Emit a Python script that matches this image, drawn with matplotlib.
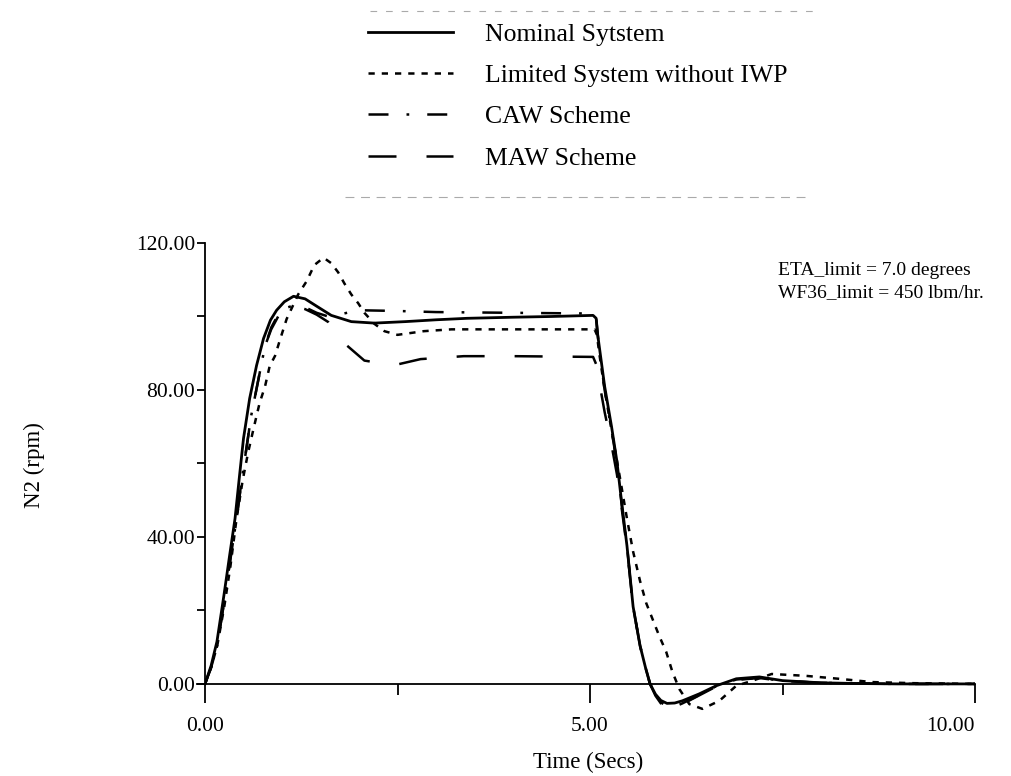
import matplotlib
matplotlib.use('Agg')
import matplotlib.pyplot as plt
from matplotlib.lines import Line2D

plt.rcParams['font.family'] = ['Liberation Serif', 'DejaVu Serif']

# ---------------- data ----------------
t_nom = [0, 0.08, 0.155, 0.245, 0.32, 0.39, 0.45, 0.50, 0.58, 0.67, 0.76, 0.85, 0.93, 1.03,
         1.15, 1.3, 1.45, 1.64, 1.9, 2.2, 2.6, 3.0, 3.4, 4.0, 4.5, 5.04, 5.08, 5.10, 5.19,
         5.28, 5.35, 5.41, 5.48, 5.56, 5.65, 5.72, 5.78, 5.85, 5.92, 6.0, 6.1, 6.2, 6.42,
         6.64, 6.9, 7.2, 7.5, 8.0, 8.5, 9.0, 10.0]
y_nom = [0, 5, 11.5, 24, 35, 45, 57, 66.8, 77.7, 86.7, 94, 99, 101.7, 104,
         105.5, 104.8, 102.8, 100.3, 98.6, 98.2, 98.6, 99.1, 99.5, 99.8, 100, 100.3, 99.5, 95, 81,
         70, 60.5, 49.6, 37.6, 21, 10.4, 4.5, 0, -2.8, -4.5, -5.3, -5.2, -4.6, -2.7,
         -0.5, 1.4, 1.9, 0.9, 0.3, 0.1, 0, 0]

t_lim = [0, 0.08, 0.16, 0.25, 0.33, 0.41, 0.49, 0.56, 0.62, 0.67, 0.71, 0.78, 0.84, 0.91,
         0.97, 1.06, 1.21, 1.32, 1.42, 1.54, 1.64, 1.73, 1.81, 1.9, 1.99, 2.07, 2.2, 2.33,
         2.5, 2.84, 3.2, 4.0, 5.06, 5.09, 5.12, 5.19, 5.28, 5.39, 5.48, 5.56, 5.65, 5.73,
         5.9, 5.99, 6.07, 6.16, 6.29, 6.46, 6.68, 6.9, 7.1, 7.36, 7.8, 8.23, 8.66, 9.2, 10.0]
y_lim = [0, 4.5, 10.5, 21, 32, 45, 55.5, 63, 68.5, 73, 76.5, 81, 86.5, 89.3,
         93.4, 99.3, 106, 109.6, 114, 116, 114.5, 112, 109, 106, 103.6, 101, 98, 96,
         95, 96, 96.5, 96.5, 96.5, 95, 90, 80, 69, 56, 45, 36, 28, 22,
         13, 8.7, 3.3, -1.4, -5.5, -6.8, -4.6, -0.5, 0.8, 2.7, 2.2, 1.4, 0.5, 0.2, 0]

t_caw = [0, 0.08, 0.16, 0.25, 0.33, 0.41, 0.48, 0.53, 0.60, 0.69, 0.78, 0.86, 0.95, 1.05,
         1.15, 1.3, 1.45, 1.6, 1.8, 2.0, 2.5, 3.0, 4.0, 5.04, 5.08, 5.11, 5.19, 5.28, 5.35,
         5.41, 5.48, 5.56, 5.65, 5.72, 5.78, 5.85, 5.92, 6.02, 6.1, 6.2, 6.42, 6.64, 6.9,
         7.2, 7.5, 8.0, 8.5, 9.0, 10.0]
y_caw = [0, 4.5, 10.5, 22.5, 34, 45, 56, 63, 73, 82.5, 92, 97, 100.5, 102.3,
         103, 102.5, 101, 100, 100.8, 101.7, 101.5, 101.2, 101, 100.8, 99.5, 93, 80, 69, 60,
         49, 37.6, 21, 10.4, 4.5, 0, -3, -5, -6.5, -6.2, -5.3, -3, -0.6, 1.2,
         1.7, 0.8, 0.3, 0.1, 0, 0]

t_maw = [0, 0.08, 0.16, 0.25, 0.33, 0.41, 0.48, 0.53, 0.60, 0.69, 0.78, 0.86, 0.95, 1.05,
         1.15, 1.3, 1.45, 1.6, 1.81, 2.07, 2.45, 2.8, 3.36, 4.0, 5.04, 5.08, 5.13, 5.19,
         5.28, 5.35, 5.41, 5.48, 5.56, 5.65, 5.72, 5.78, 5.85, 5.92, 6.02, 6.1, 6.2, 6.42,
         6.64, 6.9, 7.2, 7.5, 8.0, 8.5, 9.0, 10.0]
y_maw = [0, 4.5, 10.5, 22.5, 34, 45, 56, 63, 73, 82.5, 92, 96.5, 100, 102,
         102.8, 102, 100.5, 98.5, 92.7, 88, 86.7, 88.4, 89.2, 89.2, 89, 87, 81, 74,
         65, 57, 48, 37, 21, 10.4, 4.5, 0, -3.2, -5.3, -6.8, -6.5, -5.5, -3.1,
         -0.7, 1.1, 1.6, 0.8, 0.3, 0.1, 0, 0]

labels = ['Nominal Sytstem', 'Limited System without IWP', 'CAW Scheme', 'MAW Scheme']
x_major = [0, 5, 10]
x_major_labels = ['0.00', '5.00', '10.00']
x_minor = [2.5, 7.5]
y_major = [0, 40, 80, 120]
y_major_labels = ['0.00', '40.00', '80.00', '120.00']
y_minor = [20, 60, 100]

# ---------------- figure ----------------
W, H = 1011, 776
fig = plt.figure(figsize=(W / 100, H / 100), dpi=100)
ax = fig.add_axes([205 / W, 48 / H, 770 / W, 485 / H])
ax.set_xlim(0, 10)
ax.set_ylim(-12, 120)

lw = 1.8
l_maw, = ax.plot(t_maw, y_maw, color='black', lw=lw, dashes=(11.2, 12))
l_caw, = ax.plot(t_caw, y_caw, color='black', lw=lw, dashes=(8, 7.2, 1.1, 7.2))
l_lim, = ax.plot(t_lim, y_lim, color='black', lw=lw, dashes=(2.5, 2.8))
l_nom, = ax.plot(t_nom, y_nom, color='black', lw=2.0)

# axes styling
for s in ['top', 'right']:
    ax.spines[s].set_visible(False)
ax.spines['left'].set_bounds(0, 120)
ax.spines['bottom'].set_position(('data', 0))
ax.spines['bottom'].set_bounds(-0.1, 10)
for s in ['left', 'bottom']:
    ax.spines[s].set_linewidth(1.3)

ax.set_xticks(x_major)
ax.set_xticklabels(x_major_labels)
ax.set_xticks(x_minor, minor=True)
ax.set_yticks(y_major)
ax.set_yticklabels(y_major_labels)
ax.set_yticks(y_minor, minor=True)
ax.tick_params(axis='x', which='major', direction='out', length=13.5, width=1.3,
               labelsize=15.5, pad=10)
ax.tick_params(axis='x', which='minor', direction='out', length=8, width=1.3)
ax.tick_params(axis='y', which='both', direction='out', length=6, width=1.3,
               labelsize=15.5, pad=1)
ax.get_xticklabels()[-1].set_ha('right')

ax.set_xlabel('Time (Secs)', fontsize=16.5, va='center')
ax.xaxis.set_label_coords(0.497, -0.072)
ax.set_ylabel('N2 (rpm)', fontsize=16.5, va='center')
ax.yaxis.set_label_coords(-0.222, 0.542)

ax.text(7.44, 109.5, 'ETA_limit = 7.0 degrees\nWF36_limit = 450 lbm/hr.',
        fontsize=14, va='center', ha='left', linespacing=1.32)

# legend above the plot
fig.legend([l_nom, l_lim, l_caw, l_maw], labels, loc='upper left',
           bbox_to_anchor=(368 / W, 1 - 23 / H), frameon=False, fontsize=18.5,
           handlelength=3.3, handletextpad=1.25, labelspacing=0.71, borderpad=0,
           borderaxespad=0)

# faint scan edges of the legend box
fig.add_artist(Line2D([370 / W, 820 / W], [1 - 11 / H] * 2, color='#aaaaaa',
                      lw=0.8, dashes=(6, 8)))
fig.add_artist(Line2D([345 / W, 805 / W], [1 - 197 / H] * 2, color='#aaaaaa',
                      lw=0.8, dashes=(8, 6)))

fig.savefig('out.png', dpi=100)
